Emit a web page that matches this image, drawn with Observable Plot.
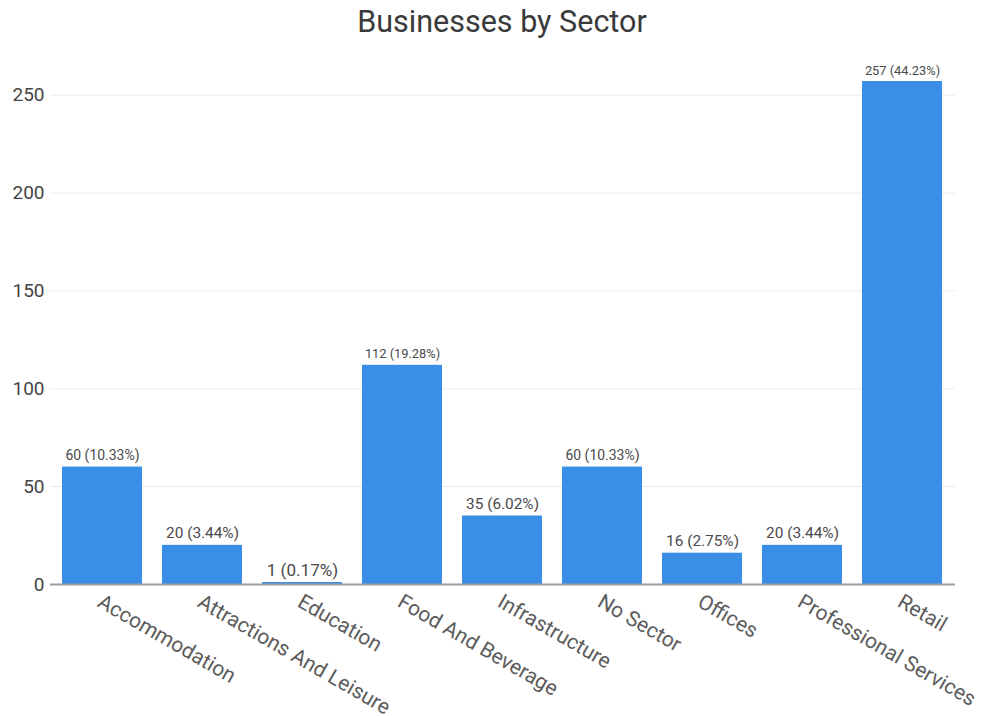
<!DOCTYPE html>
<html>
<head>
<meta charset="utf-8">
<script src="https://cdn.jsdelivr.net/npm/d3@7"></script>
<script src="https://cdn.jsdelivr.net/npm/@observablehq/plot@0.6"></script>
<style>
  html, body { margin: 0; padding: 0; background: #fff; }
  body { width: 984px; height: 716px; overflow: hidden; font-family: Roboto, sans-serif; }
  #title { height: 45px; line-height: 44px; text-align: center; font-size: 30.5px; color: #3a3a3a; padding-left: 20px; }
  svg { display: block; }
</style>
</head>
<body>
<div id="title">Businesses by Sector</div>
<div id="chart"></div>
<script>
const sectors = ["Accommodation", "Attractions And Leisure", "Education", "Food And Beverage", "Infrastructure", "No Sector", "Offices", "Professional Services", "Retail"];
const counts = [60, 20, 1, 112, 35, 60, 16, 20, 257];
const shares = ["10.33%", "3.44%", "0.17%", "19.28%", "6.02%", "10.33%", "2.75%", "3.44%", "44.23%"];
const yTicks = [0, 50, 100, 150, 200, 250];

const data = sectors.map((s, i) => ({sector: s, count: counts[i], label: `${counts[i]} (${shares[i]})`}));

const chart = Plot.plot({
  width: 984,
  height: 671,
  marginLeft: 50,
  marginRight: 29,
  marginTop: 36,
  marginBottom: 132,
  style: {fontFamily: "Roboto, sans-serif", background: "#fff"},
  x: {domain: sectors, paddingInner: 0.2, paddingOuter: 0.1, label: null},
  y: {domain: [0, 257], label: null},
  marks: [
    Plot.gridY(yTicks, {stroke: "#ebebeb", strokeOpacity: 1}),
    Plot.barY(data, {x: "sector", y: "count", fill: "#3a8ee6"}),
    Plot.ruleY([0], {stroke: "#9e9e9e", strokeWidth: 2}),
    Plot.text(data, {
      x: "sector", y: "count", text: "label",
      lineAnchor: "bottom", dy: -7, fill: "#4a4a4a",
      fontSize: d => Math.min(17.5, 80 / (d.label.length * 0.52))
    }),
    Plot.axisY(yTicks, {tickSize: 0, tickPadding: 6, fontSize: 19, fill: "#444", label: null}),
    Plot.axisX({tickSize: 0, tickRotate: 30, textAnchor: "start", fontSize: 21, fill: "#5c5c5c", dx: -3, dy: 3, label: null})
  ]
});
document.getElementById("chart").appendChild(chart);
</script>
</body>
</html>
